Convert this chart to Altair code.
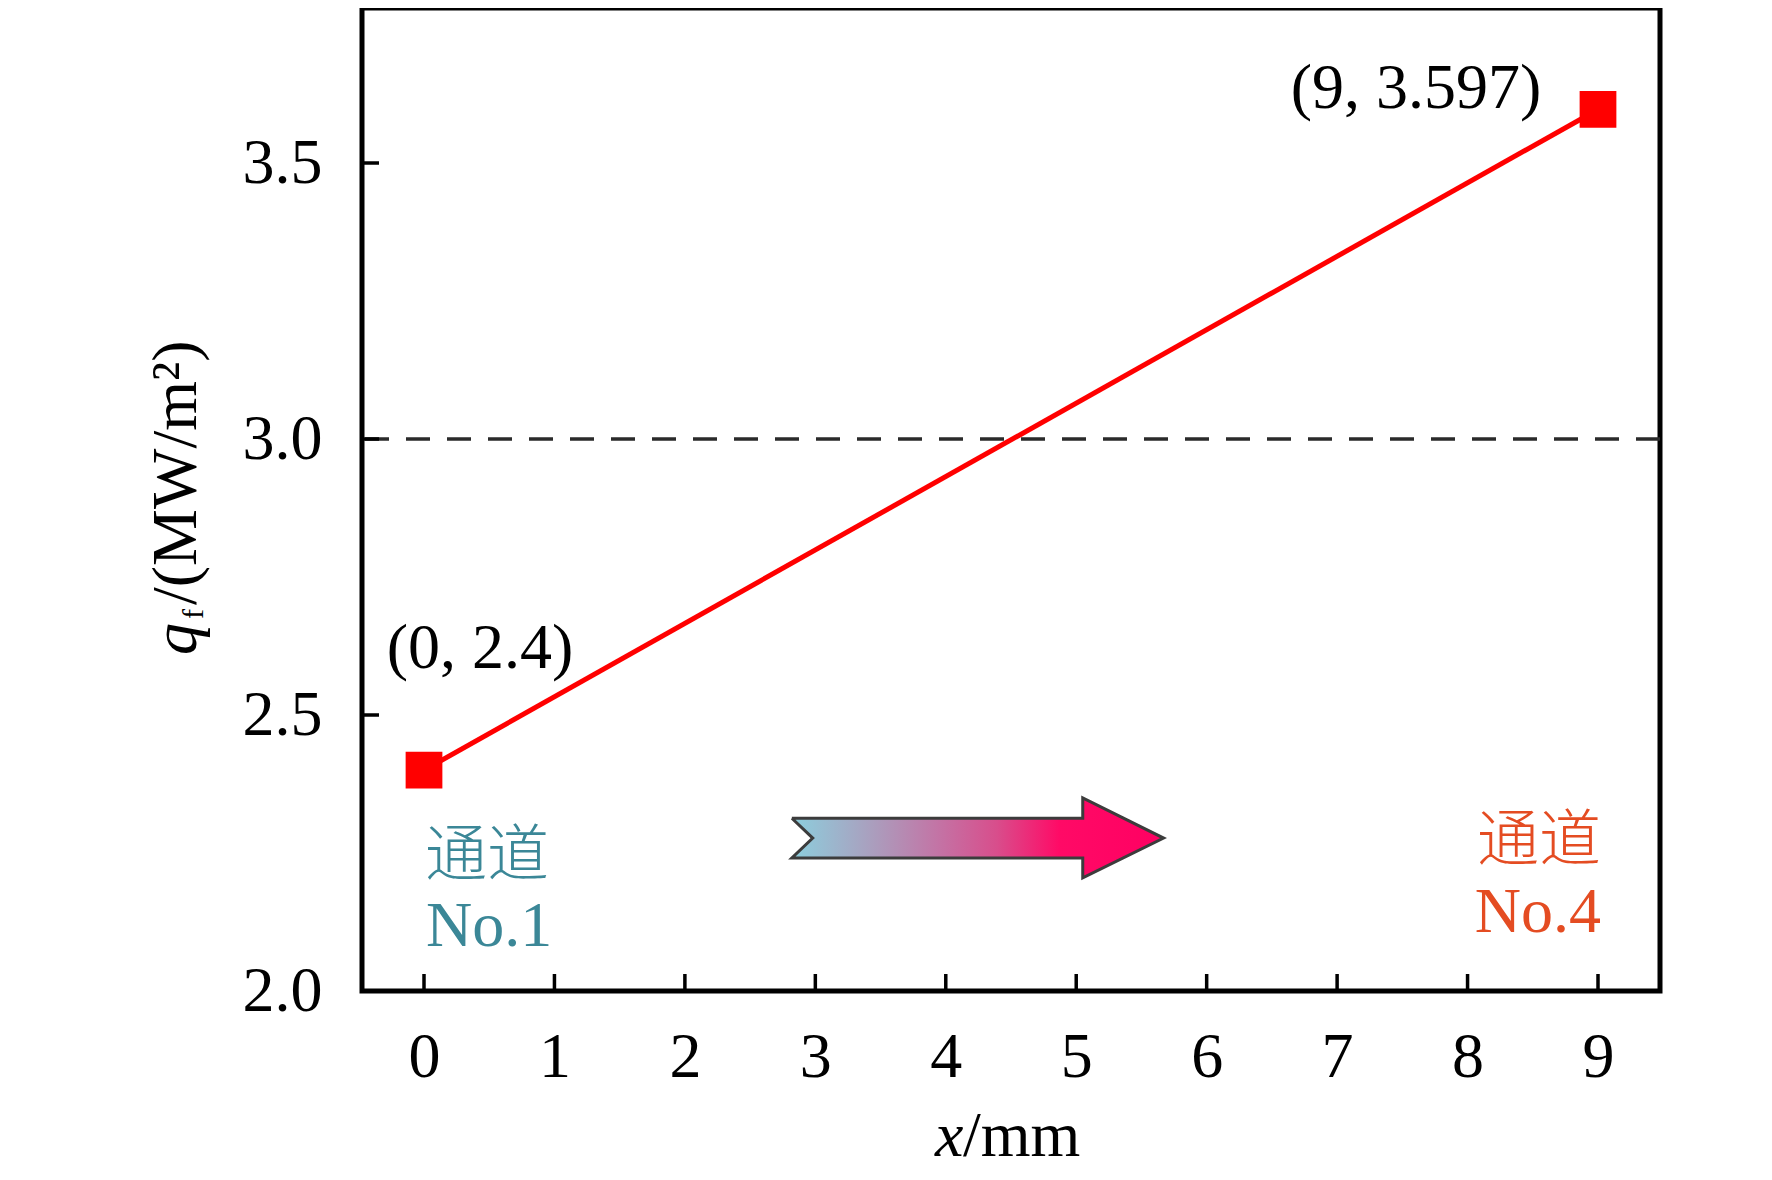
import altair as alt
import pandas as pd

# ---------------- data ----------------
x_mm = [0, 9]
qf = [2.4, 3.597]
point_labels = ["(0, 2.4)", "(9, 3.597)"]
threshold = [3.0]

x_ticks = [0, 1, 2, 3, 4, 5, 6, 7, 8, 9]
y_ticks = [2.0, 2.5, 3.0, 3.5]

channel_cn = ["通道", "通道"]
channel_no = ["No.1", "No.4"]
channel_x = [0, 9]

# arrow (decorative) in data units
arrow_fill_x = [2.82, 5.05, 5.0501, 5.67]
arrow_fill_top = [2.313, 2.313, 2.350, 2.277]
arrow_fill_bot = [2.241, 2.241, 2.205, 2.277]
notch_x = [2.80, 2.98]
notch_top = [2.315, 2.277]
notch_bot = [2.239, 2.277]
outline_x = [2.82, 5.05, 5.05, 5.67, 5.05, 5.05, 2.82, 2.98, 2.82]
outline_y = [2.313, 2.313, 2.350, 2.277, 2.205, 2.241, 2.241, 2.277, 2.313]

# ---------------- layout ----------------
W, H = 1298, 983
FONT = "Liberation Serif"
FS = 64

xs = alt.Scale(domain=[-0.4753, 9.4753], nice=False, zero=False)
ys = alt.Scale(domain=[2.0, 3.7808], nice=False, zero=False)

xaxis = alt.Axis(values=x_ticks, format="d", title=None, domain=False, ticks=False,
                 tickSize=0, grid=False, labelFont=FONT, labelFontSize=FS,
                 labelColor="black", labelPadding=34, labelFlush=False,
                 labelOverlap=False, labelBound=False)
yaxis = alt.Axis(values=y_ticks, format=".1f", title=None, domain=False, ticks=False,
                 tickSize=0, grid=False, labelFont=FONT, labelFontSize=FS,
                 labelColor="black", labelPadding=40, labelFlush=False,
                 labelOverlap=False, labelBound=False)


def X(f):
    return alt.X(f"{f}:Q", scale=xs, axis=xaxis)


def Y(f):
    return alt.Y(f"{f}:Q", scale=ys, axis=yaxis)


df_line = pd.DataFrame({"x": x_mm, "q": qf, "label": point_labels})
df_ch = pd.DataFrame({"x": channel_x, "cn": channel_cn, "no": channel_no})

# dashed threshold line
dash = alt.Chart(pd.DataFrame({"t": threshold})).mark_rule(
    color="#2a2a2a", strokeWidth=3.5, strokeDash=[24, 17]
).encode(y=Y("t"))

# arrow
grad = alt.Gradient(
    gradient="linear",
    stops=[
        alt.GradientStop(color="#8ccfdd", offset=0),
        alt.GradientStop(color="#a8a2c0", offset=0.2),
        alt.GradientStop(color="#c472a4", offset=0.4),
        alt.GradientStop(color="#d84e8c", offset=0.55),
        alt.GradientStop(color="#ff0a66", offset=0.72),
        alt.GradientStop(color="#ff0062", offset=1),
    ],
    x1=0, x2=1, y1=0, y2=0,
)
arrow_fill = alt.Chart(pd.DataFrame({"x": arrow_fill_x, "t": arrow_fill_top, "b": arrow_fill_bot})).mark_area(
    color=grad, opacity=1, interpolate="linear"
).encode(x=X("x"), y=Y("t"), y2=alt.Y2("b"))

notch = alt.Chart(pd.DataFrame({"x": notch_x, "t": notch_top, "b": notch_bot})).mark_area(
    color="white", opacity=1
).encode(x=X("x"), y=Y("t"), y2=alt.Y2("b"))

outline = alt.Chart(pd.DataFrame({"x": outline_x, "y": outline_y, "i": list(range(len(outline_x)))})).mark_line(
    color="#3c3c3c", strokeWidth=3, strokeJoin="miter"
).encode(x=X("x"), y=Y("y"), order=alt.Order("i:Q"))

# data line + markers
line = alt.Chart(df_line).mark_line(color="#ff0000", strokeWidth=5).encode(x=X("x"), y=Y("q"))
pts = alt.Chart(df_line).mark_square(color="#ff0000", size=1350, opacity=1, filled=True).encode(
    x=X("x"), y=Y("q"))

lab0 = alt.Chart(df_line.iloc[[0]]).mark_text(
    font=FONT, fontSize=FS, color="black", align="center", baseline="alphabetic", dx=56, dy=-102
).encode(x=X("x"), y=Y("q"), text="label:N")
lab1 = alt.Chart(df_line.iloc[[1]]).mark_text(
    font=FONT, fontSize=FS, color="black", align="center", baseline="alphabetic", dx=-182, dy=-1
).encode(x=X("x"), y=Y("q"), text="label:N")

# channel labels
TEAL = "#3b8797"
ORANGE = "#e44c22"
CJK = "Noto Sans CJK SC"
ch1_cn = alt.Chart(df_ch.iloc[[0]]).mark_text(
    font=CJK, fontSize=62, fontWeight=300, color=TEAL, align="left", baseline="alphabetic", dx=1
).encode(x=X("x"), y=alt.value(868), text="cn:N")
ch1_no = alt.Chart(df_ch.iloc[[0]]).mark_text(
    font=FONT, fontSize=FS, color=TEAL, align="left", baseline="alphabetic", dx=2
).encode(x=X("x"), y=alt.value(938), text="no:N")
ch4_cn = alt.Chart(df_ch.iloc[[1]]).mark_text(
    font=CJK, fontSize=62, fontWeight=300, color=ORANGE, align="right", baseline="alphabetic", dx=3
).encode(x=X("x"), y=alt.value(853), text="cn:N")
ch4_no = alt.Chart(df_ch.iloc[[1]]).mark_text(
    font=FONT, fontSize=FS, color=ORANGE, align="right", baseline="alphabetic", dx=3
).encode(x=X("x"), y=alt.value(924), text="no:N")

# inward ticks
xtick = alt.Chart(pd.DataFrame({"t": x_ticks})).mark_rule(color="black", strokeWidth=3.5).encode(
    x=X("t"), y=alt.value(H), y2=alt.value(H - 17))
ytick = alt.Chart(pd.DataFrame({"t": y_ticks[1:]})).mark_rule(color="black", strokeWidth=3.5).encode(
    y=Y("t"), x=alt.value(0), x2=alt.value(17))

# axis titles (rich text pieces)
one = pd.DataFrame({"s": [""]})
yt_q = alt.Chart(one).mark_text(font=FONT, fontSize=FS, fontStyle="italic", color="black",
                                angle=270, align="left", baseline="alphabetic").encode(
    x=alt.value(-166), y=alt.value(647), text=alt.value("q"))
yt_f = alt.Chart(one).mark_text(font=FONT, fontSize=30, color="black",
                                angle=270, align="left", baseline="alphabetic").encode(
    x=alt.value(-159), y=alt.value(611), text=alt.value("f"))
yt_rest = alt.Chart(one).mark_text(font=FONT, fontSize=FS, color="black",
                                   angle=270, align="left", baseline="alphabetic").encode(
    x=alt.value(-166), y=alt.value(597), text=alt.value("/(MW/m²)"))
xt_x = alt.Chart(one).mark_text(font=FONT, fontSize=FS, fontStyle="italic", color="black",
                                align="left", baseline="alphabetic").encode(
    x=alt.value(573), y=alt.value(1148), text=alt.value("x"))
xt_rest = alt.Chart(one).mark_text(font=FONT, fontSize=FS, color="black",
                                   align="left", baseline="alphabetic").encode(
    x=alt.value(601), y=alt.value(1148), text=alt.value("/mm"))

chart = alt.layer(
    dash, arrow_fill, notch, outline, line, pts, lab0, lab1,
    ch1_cn, ch1_no, ch4_cn, ch4_no, xtick, ytick,
    yt_q, yt_f, yt_rest, xt_x, xt_rest,
).properties(
    width=W, height=H,
    autosize=alt.AutoSizeParams(type="none"),
    padding={"left": 354, "top": 0, "right": 100, "bottom": 181},
    background="white",
).configure_view(stroke="black", strokeWidth=5)

chart.save("out.html", embed_options={"renderer": "svg", "actions": False})
